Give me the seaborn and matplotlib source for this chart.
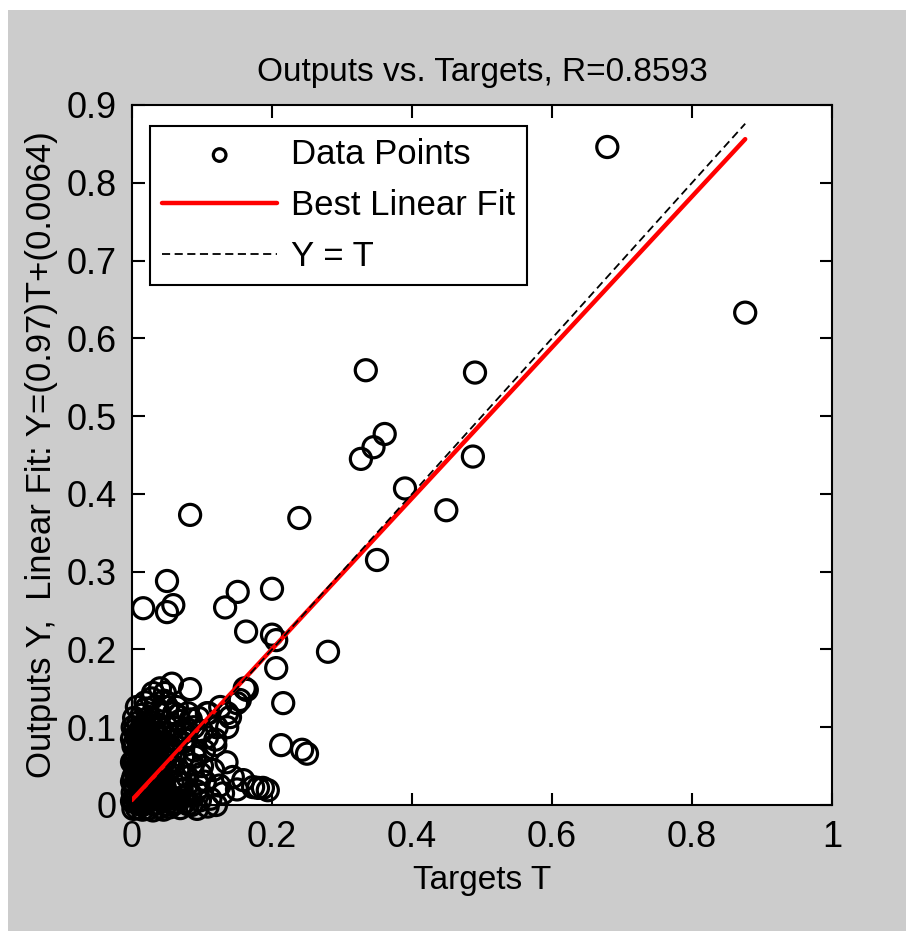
import matplotlib
matplotlib.use("Agg")
import matplotlib.pyplot as plt
import seaborn as sns
import numpy as np
import pandas as pd
from matplotlib.patches import Rectangle

# Outlying points (targets T, outputs Y)
outlier_t = [0.679, 0.876, 0.334, 0.490, 0.361, 0.345, 0.327, 0.487, 0.390, 0.449,
             0.350, 0.239, 0.083, 0.050, 0.016, 0.059, 0.050, 0.151, 0.133, 0.200,
             0.163, 0.200, 0.206, 0.280, 0.206, 0.216, 0.213, 0.243, 0.250, 0.083,
             0.057, 0.161, 0.150, 0.136]
outlier_y = [0.846, 0.633, 0.559, 0.556, 0.477, 0.460, 0.445, 0.448, 0.407, 0.379,
             0.315, 0.369, 0.373, 0.288, 0.253, 0.257, 0.248, 0.274, 0.254, 0.278,
             0.223, 0.219, 0.212, 0.197, 0.176, 0.131, 0.077, 0.071, 0.066, 0.149,
             0.156, 0.150, 0.131, 0.118]

# Dense cluster near the origin
core_t = [0.003, 0.011, 0.019, 0.027, 0.036, 0.044,
          0.007, 0.023, 0.040, 0.054, 0.069, 0.093,
          0.001, 0.008, 0.016, 0.024, 0.032, 0.041,
          0.004, 0.012, 0.020, 0.029, 0.038, 0.047,
          0.002, 0.009, 0.017, 0.025, 0.034, 0.043,
          0.005, 0.013, 0.021, 0.030, 0.039,
          0.003, 0.010, 0.018, 0.027, 0.036,
          0.006, 0.014, 0.023, 0.032, 0.041,
          0.002, 0.011, 0.019, 0.028, 0.037,
          0.007, 0.015, 0.024, 0.033,
          0.004, 0.012, 0.021, 0.030, 0.040,
          0.009, 0.018, 0.027, 0.036,
          0.014, 0.025, 0.040, 0.003,
          0.007, 0.020, 0.033, 0.050, 0.064,
          0.019, 0.028, 0.046,
          0.030, 0.047, 0.040,
          0.007, 0.015, 0.023, 0.031, 0.040, 0.049,
          0.005, 0.013, 0.021, 0.029, 0.037, 0.045,
          0.008, 0.016, 0.024, 0.033, 0.042,
          0.006, 0.014, 0.022, 0.031, 0.040,
          0.008, 0.016, 0.025, 0.034, 0.044,
          0.005, 0.012, 0.020, 0.029, 0.038,
          0.009, 0.017, 0.026, 0.035, 0.045,
          0.004, 0.012, 0.021, 0.030, 0.039,
          0.008, 0.017, 0.026, 0.035,
          0.015, 0.031, 0.048, 0.062, 0.080]
core_y = [0.004, 0.006, 0.003, 0.007, 0.002, 0.005,
          -0.004, -0.005, -0.003, -0.003, -0.004, -0.005,
          0.016, 0.013, 0.017, 0.014, 0.016, 0.013,
          0.026, 0.024, 0.027, 0.023, 0.025, 0.022,
          0.036, 0.034, 0.037, 0.033, 0.035, 0.036,
          0.046, 0.044, 0.047, 0.043, 0.045,
          0.056, 0.054, 0.057, 0.053, 0.055,
          0.066, 0.064, 0.067, 0.063, 0.066,
          0.076, 0.074, 0.077, 0.073, 0.075,
          0.086, 0.084, 0.087, 0.083,
          0.096, 0.094, 0.097, 0.093, 0.098,
          0.106, 0.104, 0.107, 0.103,
          0.116, 0.113, 0.117, 0.112,
          0.126, 0.124, 0.127, 0.126, 0.126,
          0.132, 0.137, 0.134,
          0.144, 0.144, 0.150,
          0.010, 0.011, 0.009, 0.012, 0.010, 0.008,
          0.020, 0.021, 0.019, 0.022, 0.020, 0.018,
          0.030, 0.031, 0.029, 0.030, 0.032,
          0.040, 0.041, 0.039, 0.042, 0.040,
          0.050, 0.051, 0.049, 0.050, 0.052,
          0.060, 0.061, 0.059, 0.062, 0.060,
          0.070, 0.071, 0.069, 0.070, 0.072,
          0.080, 0.081, 0.079, 0.082, 0.080,
          0.090, 0.091, 0.089, 0.092,
          0.000, 0.001, 0.000, 0.002, 0.001]

# More points filling the cluster and its right-hand edge
fill_t = [0.000, 0.000, 0.000, 0.000, 0.001, 0.010, 0.018, 0.026, 0.034, 0.042,
          0.015, 0.022, 0.011, 0.028, 0.016, 0.033, 0.022, 0.013, 0.039, 0.045,
          0.050, 0.053, 0.056, 0.058, 0.061, 0.065, 0.070, 0.072, 0.080, 0.088,
          0.095, 0.100, 0.103, 0.098, 0.092, 0.085, 0.072, 0.065, 0.057, 0.045,
          0.030, 0.015, 0.002]
fill_y = [0.005, 0.030, 0.055, 0.085, 0.100, 0.001, 0.012, 0.019, 0.028, 0.050,
          0.031, 0.041, 0.062, 0.058, 0.071, 0.077, 0.085, 0.098, 0.086, 0.093,
          0.040, 0.055, 0.068, 0.082, 0.100, 0.115, 0.095, 0.080, 0.118, 0.100,
          0.112, 0.095, 0.070, 0.040, 0.018, 0.000, 0.010, 0.030, 0.002, -0.006,
          -0.007, -0.006, -0.005]

# Looser points spreading out from the cluster
spread_t = [0.052, 0.058, 0.062, 0.066, 0.071, 0.073, 0.076, 0.079, 0.083, 0.086,
            0.089, 0.093, 0.097, 0.059, 0.090, 0.069, 0.048, 0.055, 0.062, 0.050,
            0.068, 0.060, 0.078, 0.075, 0.084,
            0.107, 0.126, 0.140, 0.154, 0.164, 0.121, 0.136, 0.107, 0.119, 0.109,
            0.119, 0.116, 0.144, 0.159, 0.173, 0.180, 0.187, 0.194, 0.130, 0.104,
            0.112, 0.125, 0.100, 0.135, 0.150, 0.108, 0.120]
spread_y = [0.012, 0.030, 0.008, 0.045, 0.020, 0.062, 0.004, 0.036, 0.015, 0.052,
            0.070, 0.028, 0.006, 0.049, 0.062, 0.028, 0.060, 0.075, 0.090, 0.100,
            0.108, 0.118, 0.098, 0.085, 0.110,
            0.118, 0.126, 0.113, 0.135, 0.148, 0.100, 0.100, 0.087, 0.084, 0.118,
            0.077, 0.045, 0.036, 0.032, 0.023, 0.022, 0.022, 0.019, 0.015, 0.030,
            0.008, 0.025, 0.050, 0.055, 0.020, -0.002, 0.000]

# Fit shown in the axis label
slope = 0.97
intercept = 0.0064
r_value = 0.8593

targets = np.array(outlier_t + core_t + fill_t + spread_t)
outputs = np.array(outlier_y + core_y + fill_y + spread_y)
df = pd.DataFrame({"T": targets, "Y": outputs})

sns.set_style("ticks")
plt.rcParams["font.family"] = ["Liberation Sans", "DejaVu Sans"]
plt.rcParams["text.color"] = "black"
plt.rcParams["axes.labelcolor"] = "black"

fig = plt.figure(figsize=(9.06, 9.31), dpi=100)
fig.patch.set_facecolor("white")
# grey MATLAB-style window background, with a thin white border top/left
fig.add_artist(Rectangle((8 / 906, 0), 1, (931 - 10) / 931, transform=fig.transFigure,
                         facecolor="#cccccc", edgecolor="none", zorder=-10))

ax = fig.add_axes([132 / 906, (931 - 805) / 931, 700 / 906, 700 / 931])
ax.set_facecolor("white")

# Data points
sns.scatterplot(data=df, x="T", y="Y", ax=ax, marker="o", s=230,
                facecolors="none", edgecolors="black", linewidths=2.3,
                clip_on=False, zorder=3, label="Data Points")

# Best linear fit and identity line
t_line = np.array([targets.min(), targets.max()])
sns.lineplot(x=t_line, y=slope * t_line + intercept, ax=ax, color="red",
             linewidth=3.2, label="Best Linear Fit", zorder=4)
sns.lineplot(x=t_line, y=t_line, ax=ax, color="black", linestyle="--",
             linewidth=1.3, label="Y = T", zorder=4)
ax.lines[-1].set_dashes((4.5, 2.5))

ax.set_xlim(0, 1)
ax.set_ylim(0, 0.9)
ax.set_xticks([0, 0.2, 0.4, 0.6, 0.8, 1])
ax.set_xticklabels(["0", "0.2", "0.4", "0.6", "0.8", "1"])
ax.set_yticks(np.arange(0, 0.91, 0.1))
ax.set_yticklabels(["0"] + [f"{v:.1f}" for v in np.arange(0.1, 0.91, 0.1)])
ax.tick_params(direction="in", length=9, width=1.5, top=True, right=True,
               labelsize=26, pad=11, colors="black")
for sp in ax.spines.values():
    sp.set_visible(True)
    sp.set_linewidth(1.5)
    sp.set_color("black")

ax.set_title(f"Outputs vs. Targets, R={r_value}", fontsize=24, pad=17)
ax.set_xlabel("Targets T", fontsize=24, labelpad=7)
ax.set_ylabel(f"Outputs Y,  Linear Fit: Y=({slope})T+({intercept})", fontsize=25, labelpad=6)

leg = ax.legend(loc="upper left", bbox_to_anchor=(0.026, 0.97), borderaxespad=0,
                fontsize=25, frameon=True, fancybox=False, edgecolor="black",
                handlelength=3.3, labelspacing=0.52, markerscale=0.6,
                borderpad=0.35, handletextpad=0.4)
leg.get_frame().set_linewidth(1.5)
leg.get_frame().set_alpha(1)

fig.savefig("out.png", dpi=100, facecolor=fig.get_facecolor())
